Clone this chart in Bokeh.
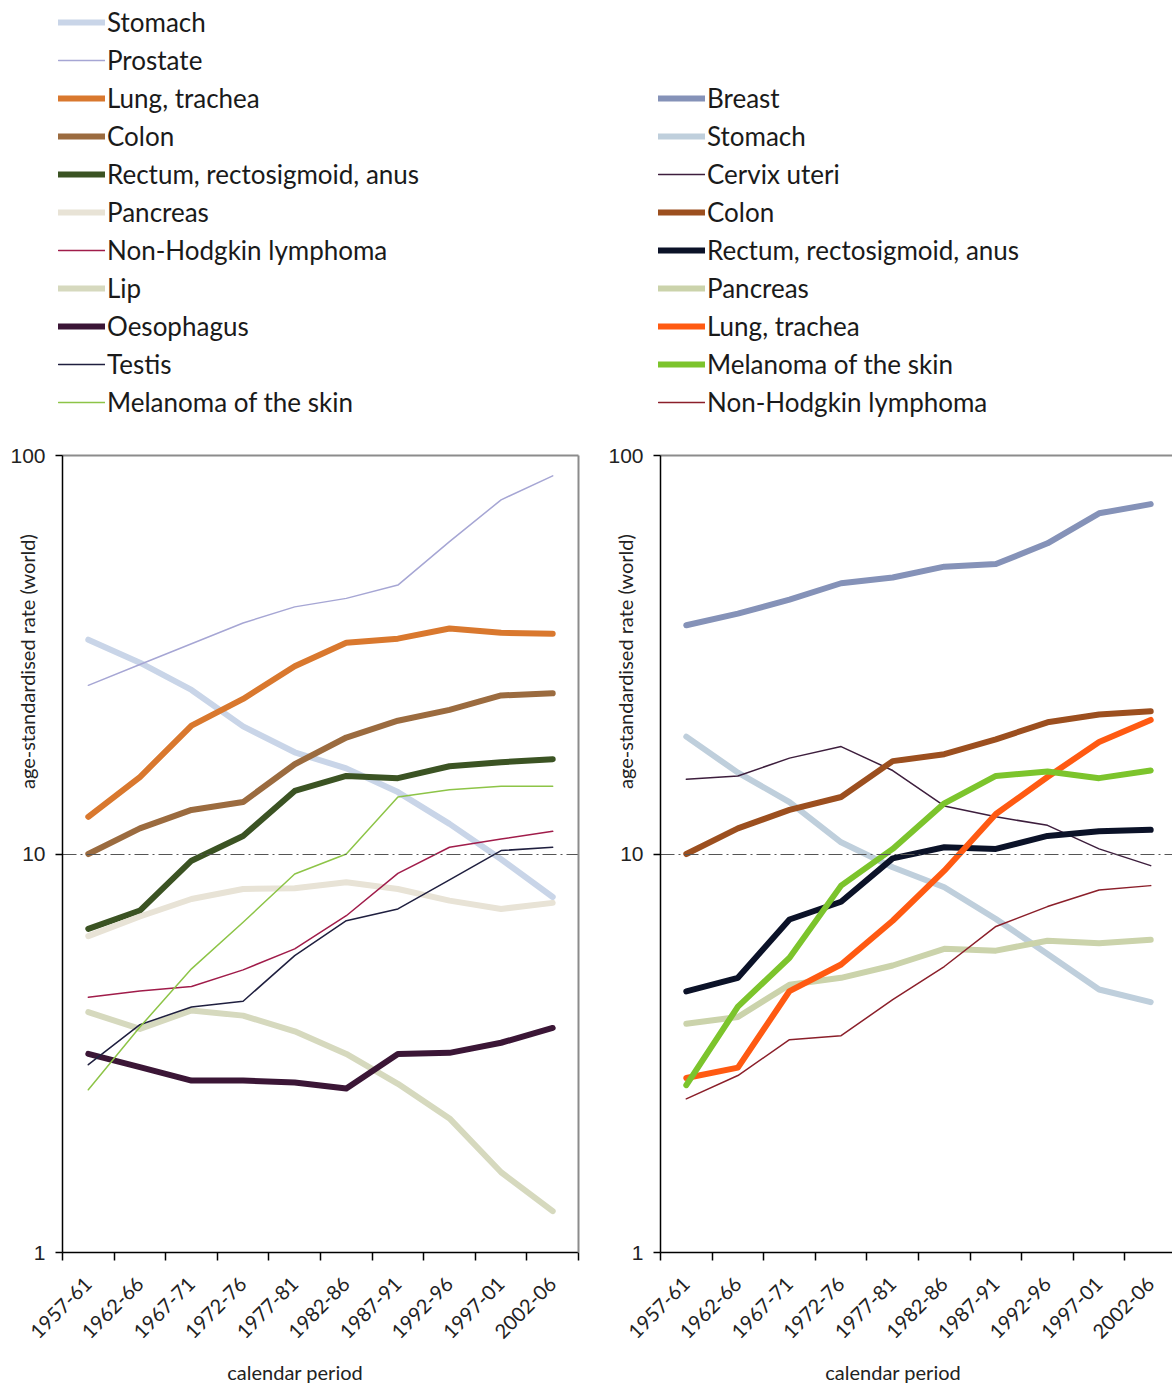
import math
from bokeh.plotting import figure
from bokeh.models import (Range1d, FixedTicker, NumeralTickFormatter, Label,
                          Legend, LegendItem, LinearAxis, LogAxis)
from bokeh.layouts import row
from bokeh.embed import file_html
from bokeh.resources import INLINE

# ---------------- data ----------------
periods = ["1957-61", "1962-66", "1967-71", "1972-76", "1977-81",
           "1982-86", "1987-91", "1992-96", "1997-01", "2002-06"]

# left panel
men_stomach    = [34.5, 30.2, 25.8, 20.9, 18.0, 16.4, 14.3, 11.9, 9.7, 7.8]
men_prostate   = [26.5, 29.9, 33.7, 38.0, 41.7, 43.8, 47.3, 60.8, 77.4, 88.9]
men_lung       = [12.4, 15.6, 21.0, 24.5, 29.6, 33.9, 34.7, 36.8, 35.9, 35.7]
men_colon      = [10.0, 11.6, 12.9, 13.5, 16.8, 19.6, 21.6, 23.0, 25.0, 25.3]
men_rectum     = [6.49, 7.21, 9.62, 11.1, 14.4, 15.7, 15.5, 16.6, 17.0, 17.3]
men_pancreas   = [6.22, 6.97, 7.71, 8.17, 8.20, 8.49, 8.17, 7.64, 7.28, 7.54]
men_nhl        = [4.37, 4.53, 4.65, 5.12, 5.78, 7.00, 8.94, 10.4, 10.9, 11.4]
men_lip        = [4.01, 3.64, 4.05, 3.93, 3.59, 3.15, 2.65, 2.17, 1.59, 1.27]
men_oesophagus = [3.15, 2.92, 2.70, 2.70, 2.67, 2.58, 3.15, 3.17, 3.36, 3.66]
men_testis     = [2.96, 3.73, 4.13, 4.27, 5.56, 6.80, 7.28, 8.61, 10.2, 10.4]
men_melanoma   = [2.56, 3.68, 5.15, 6.74, 8.91, 10.0, 13.9, 14.5, 14.8, 14.8]

# right panel
women_breast   = [37.5, 40.1, 43.5, 47.8, 49.4, 52.6, 53.4, 60.2, 71.6, 75.5]
women_stomach  = [19.7, 16.0, 13.5, 10.7, 9.26, 8.25, 6.87, 5.61, 4.57, 4.25]
women_cervix   = [15.4, 15.7, 17.4, 18.6, 16.2, 13.2, 12.4, 11.8, 10.3, 9.35]
women_colon    = [10.0, 11.6, 12.9, 13.9, 17.1, 17.8, 19.4, 21.4, 22.4, 22.8]
women_rectum   = [4.52, 4.89, 6.85, 7.59, 9.75, 10.4, 10.3, 11.1, 11.4, 11.5]
women_pancreas = [3.75, 3.90, 4.70, 4.89, 5.25, 5.78, 5.72, 6.06, 5.97, 6.09]
women_lung     = [2.74, 2.91, 4.53, 5.28, 6.80, 9.08, 12.6, 15.6, 19.1, 21.7]
women_melanoma = [2.63, 4.14, 5.49, 8.33, 10.3, 13.4, 15.7, 16.1, 15.5, 16.2]
women_nhl      = [2.43, 2.78, 3.42, 3.50, 4.31, 5.22, 6.58, 7.38, 8.12, 8.33]

y_ticks = [1, 10, 100]
y_title = "age-standardised rate (world)"
x_title = "calendar period"

left_series = [
    ("Stomach", men_stomach, "#c9d5e8", 6),
    ("Prostate", men_prostate, "#a6a6d4", 1.5),
    ("Lung, trachea", men_lung, "#d9782e", 6),
    ("Colon", men_colon, "#9b6b3f", 6),
    ("Rectum, rectosigmoid, anus", men_rectum, "#3b5323", 6),
    ("Pancreas", men_pancreas, "#e8e3d6", 6),
    ("Non-Hodgkin lymphoma", men_nhl, "#a01c4a", 1.5),
    ("Lip", men_lip, "#d6d9be", 6),
    ("Oesophagus", men_oesophagus, "#3b1636", 6),
    ("Testis", men_testis, "#1f1f3f", 1.5),
    ("Melanoma of the skin", men_melanoma, "#8dc447", 1.5),
]
right_series = [
    ("Breast", women_breast, "#8592b8", 6),
    ("Stomach", women_stomach, "#bfcfdc", 6),
    ("Cervix uteri", women_cervix, "#3d1e3d", 1.5),
    ("Colon", women_colon, "#9c4f1f", 6),
    ("Rectum, rectosigmoid, anus", women_rectum, "#0b1228", 6),
    ("Pancreas", women_pancreas, "#cbd3ab", 6),
    ("Lung, trachea", women_lung, "#ff5a12", 6),
    ("Melanoma of the skin", women_melanoma, "#7cc42c", 6),
    ("Non-Hodgkin lymphoma", women_nhl, "#8b1f2a", 1.5),
]

# ---------------- layout constants (pixels) ----------------
FONT = "Lato"
CANVAS_H = 1385
AXIS_OFF = 62        # axis line distance from the canvas' left edge
CAT_W = 51.6         # width of one period
Y_BOTTOM = 1252      # pixel row of the value 1
DECADE = 398.5       # pixels per decade


def make_panel(series, canvas_w, legend_x, draw_right_border):
    x0 = -AXIS_OFF / CAT_W
    x1 = (canvas_w - AXIS_OFF) / CAT_W
    ylo = 10 ** ((Y_BOTTOM - CANVAS_H) / DECADE)
    yhi = 10 ** (Y_BOTTOM / DECADE)
    p = figure(frame_width=canvas_w, frame_height=CANVAS_H,
               x_range=Range1d(x0, x1), y_range=Range1d(ylo, yhi),
               y_axis_type="log", x_axis_location=None, y_axis_location=None,
               output_backend="svg", toolbar_location=None,
               min_border_left=0, min_border_right=0,
               min_border_top=0, min_border_bottom=0)
    p.outline_line_color = None
    p.xgrid.visible = False
    p.ygrid.visible = False
    p.background_fill_color = "white"
    p.border_fill_color = "white"

    n = len(periods)
    xs = [i + 0.5 for i in range(n)]

    # reference line at 10 (dash-dot), frame top and right borders
    dash = LinearAxis(fixed_location=10, bounds=(0, n), ticker=FixedTicker(ticks=[]),
                      axis_line_color="#555555", axis_line_width=1,
                      axis_line_dash="14 4 2 4")
    p.add_layout(dash, "above")
    top = LinearAxis(fixed_location=100, bounds=(0, n), ticker=FixedTicker(ticks=[]),
                     axis_line_color="#8c8c8c", axis_line_width=2)
    p.add_layout(top, "above")
    if draw_right_border:
        rgt = LogAxis(fixed_location=n, bounds=(1, 100), ticker=FixedTicker(ticks=[]),
                      axis_line_color="#8c8c8c", axis_line_width=2)
        p.add_layout(rgt, "right")

    items = []
    for name, vals, color, w in series:
        r = p.line(xs, vals, line_color=color, line_width=w,
                   line_join="round", line_cap="round")
        items.append(LegendItem(label=name, renderers=[r]))

    # x axis
    xa = LinearAxis(fixed_location=1, bounds=(0, n),
                    ticker=FixedTicker(ticks=xs, minor_ticks=list(range(n + 1))))
    xa.major_label_overrides = {x: lab for x, lab in zip(xs, periods)}
    xa.major_tick_out = 0
    xa.major_tick_in = 0
    xa.minor_tick_out = 8
    xa.minor_tick_in = 0
    xa.minor_tick_line_color = "black"
    xa.minor_tick_line_width = 1.5
    xa.axis_line_color = "black"
    xa.axis_line_width = 1.5
    xa.major_label_orientation = math.pi / 4
    xa.major_label_text_font = FONT
    xa.major_label_text_font_size = "20px"
    xa.major_label_text_color = "#222222"
    xa.major_label_standoff = 20
    p.add_layout(xa, "below")

    # y axis
    ya = LogAxis(fixed_location=0, bounds=(1, 100),
                 ticker=FixedTicker(ticks=y_ticks, minor_ticks=[]))
    ya.formatter = NumeralTickFormatter(format="0")
    ya.major_tick_out = 7
    ya.major_tick_in = 0
    ya.major_tick_line_color = "black"
    ya.major_tick_line_width = 1.5
    ya.axis_line_color = "black"
    ya.axis_line_width = 1.5
    ya.major_label_text_font = "Liberation Sans"
    ya.major_label_text_font_size = "21px"
    ya.major_label_text_color = "#222222"
    ya.major_label_standoff = 10
    p.add_layout(ya, "left")

    # titles
    p.add_layout(Label(x=-0.68, y=30.4, text=y_title, angle=math.pi / 2,
                       text_align="center", text_baseline="middle",
                       text_font=FONT, text_font_size="20px", text_color="#222222"))
    p.add_layout(Label(x=4.51, y=0.5, text=x_title,
                       text_align="center", text_baseline="middle",
                       text_font=FONT, text_font_size="20px", text_color="#222222"))

    legend = Legend(items=items, location=(legend_x, CANVAS_H - 419),
                    orientation="vertical",
                    glyph_width=47, glyph_height=34, label_height=34, spacing=4,
                    padding=0, margin=0, label_standoff=2,
                    label_text_font=FONT, label_text_font_size="26px",
                    label_text_color="#1a1a1a",
                    border_line_alpha=0, background_fill_alpha=0)
    p.add_layout(legend)
    return p


p_left = make_panel(left_series, 598, 58, True)
p_right = make_panel(right_series, 574, 60, False)

layout = row(p_left, p_right)
open("out.html", "w").write(file_html(layout, INLINE))
